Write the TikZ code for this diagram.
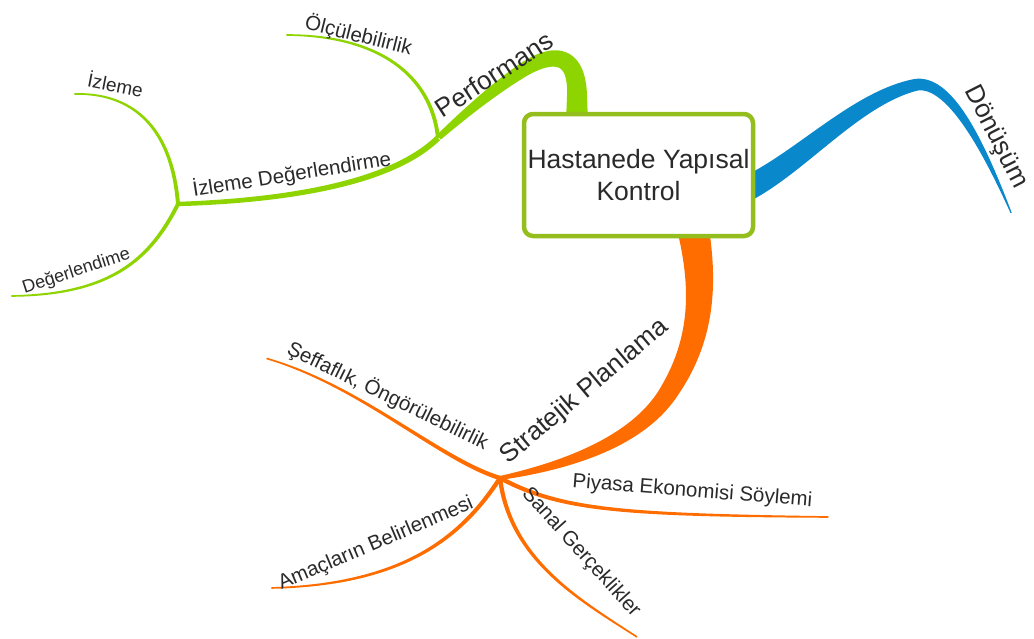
\documentclass[tikz,border=0pt]{standalone}
\usepackage{fontspec}
\setmainfont{Liberation Sans}
\usetikzlibrary{decorations.markings,backgrounds}

\definecolor{grn}{HTML}{8ED400}
\definecolor{boxgrn}{HTML}{93BE1E}
\definecolor{blu}{HTML}{0988CC}
\definecolor{org}{HTML}{FF6D00}
\definecolor{ink}{HTML}{2A2A2A}

\newcommand\brfont{\fontsize{26}{31}\selectfont}
\newcommand\lffont{\fontsize{20.5}{24}\selectfont}

\newcount\tprn
\tikzset{
  % samples the path and leaves points on both sides of it; half width goes from #1 to #2
  tapered/.style args={#1/#2}{decorate, decoration={markings,
     mark=between positions 0 and 1 step 2.5pt with {%
       \pgfmathsetmacro\tprad{#1+(#2-#1)*\pgfkeysvalueof{/pgf/decoration/mark info/distance from start}/\pgfdecoratedpathlength}%
       \global\advance\tprn by 1
       \coordinate (tpL\the\tprn) at (0pt,\tprad pt);
       \coordinate (tpR\the\tprn) at (0pt,-\tprad pt);}}},
  lbl/.style={anchor=base, inner sep=0pt, text=ink, font=\lffont},
  brlbl/.style={lbl, font=\brfont},
  rootbox/.style={draw=boxgrn, line width=4.5pt, fill=white, rounded corners=9pt,
    minimum width=229pt, minimum height=122pt, align=center, text=ink,
    font=\fontsize{26.5}{32}\selectfont, inner sep=0pt}
}

% a filled branch of varying width: colour, half widths, path
\newcommand\branch[3]{%
  \global\tprn=0
  \path[tapered=#2] #3;
  \fill[#1] (tpL1) \foreach \i in {2,...,\the\tprn} {-- (tpL\i)}
                   \foreach \i in {\the\tprn,...,1} {-- (tpR\i)} -- cycle;
}

\begin{document}
\begin{tikzpicture}[x=1pt,y=-1pt]
\useasboundingbox (0,0) rectangle (1034,638);

% central topic
\node[rootbox] (root) at (638.5,175) {Hastanede Yapısal\\Kontrol};

% branch points and leaf ends
\coordinate (gStart) at (577,150);
\coordinate (J1) at (438,138);
\coordinate (hubG) at (178,204);
\coordinate (olcEnd) at (285,35);
\coordinate (izlEnd) at (73,94);
\coordinate (degEnd) at (10,296);
\coordinate (bStart) at (730,196);
\coordinate (donEnd) at (1012,215);
\coordinate (oStart) at (689,210);
\coordinate (hubO) at (500,478);
\coordinate (sefEnd) at (265,358);
\coordinate (amaEnd) at (270,588);
\coordinate (sanEnd) at (637,637);
\coordinate (piyEnd) at (830,517);

\begin{pgfonlayer}{background}
  % Performans
  \branch{grn}{12/3}{(gStart) -- (577,95) .. controls (577,50) and (550,52) .. (520,72)
        .. controls (490,92) and (460,118) .. (J1)}
  \branch{grn}{3/2.2}{(J1) .. controls +(-43,42) and +(122,-4) .. (hubG)}
  \branch{grn}{2/0.8}{(J1) .. controls +(-6,-58) and +(100,0) .. (olcEnd)}
  \branch{grn}{2/0.8}{(hubG) .. controls +(-6,-74) and +(62,-2) .. (izlEnd)}
  \branch{grn}{2/0.8}{(hubG) .. controls +(-28,56) and +(100,-1) .. (degEnd)}
  % Dönüşüm
  \branch{blu}{13/0.5}{(bStart) .. controls (790,175) and (850,100) .. (915,85)
        .. controls (950,78) and (985,150) .. (donEnd)}
  % Stratejik Planlama
  \branch{org}{16.5/2}{(oStart) .. controls (703,270) and (708,330) .. (670,390)
        .. controls (640,440) and (570,465) .. (hubO)}
  \branch{org}{2.2/0.8}{(hubO) .. controls +(-60,-18) and +(95,27) .. (sefEnd)}
  \branch{org}{2.2/0.8}{(hubO) .. controls +(-40,62) and +(130,-3) .. (amaEnd)}
  \branch{org}{2.2/0.8}{(hubO) .. controls +(10,82) and +(-57,-37) .. (sanEnd)}
  \branch{org}{2.2/0.8}{(hubO) .. controls +(60,32) and +(-210,-2) .. (piyEnd)}
\end{pgfonlayer}

% branch labels
\node[brlbl, rotate=33] (lperf) at (499,82) {Performans};
\node[brlbl, rotate=-63] (ldon) at (990,140) {Dönüşüm};
\node[brlbl, rotate=40] (lstr) at (589,397) {Stratejik Planlama};
\node[lbl, rotate=-14] (lolc) at (357,42) {Ölçülebilirlik};
\node[lbl, rotate=9] (lizd) at (293,181) {İzleme Değerlendirme};
\node[lbl, rotate=-11, font=\fontsize{19}{23}\selectfont] (lizl) at (114,92) {İzleme};
\node[lbl, rotate=18, font=\fontsize{18}{22}\selectfont] (ldeg) at (78,276) {Değerlendime};
\node[lbl, rotate=-26] (lsef) at (385,402) {Şeffaflık, Öngörülebilirlik};
\node[lbl, rotate=23] (lama) at (378,549) {Amaçların Belirlenmesi};
\node[lbl, rotate=-48] (lsan) at (577,556) {Sanal Gerçeklikler};
\node[lbl, rotate=-4.5] (lpiy) at (692,497) {Piyasa Ekonomisi Söylemi};
\end{tikzpicture}
\end{document}
